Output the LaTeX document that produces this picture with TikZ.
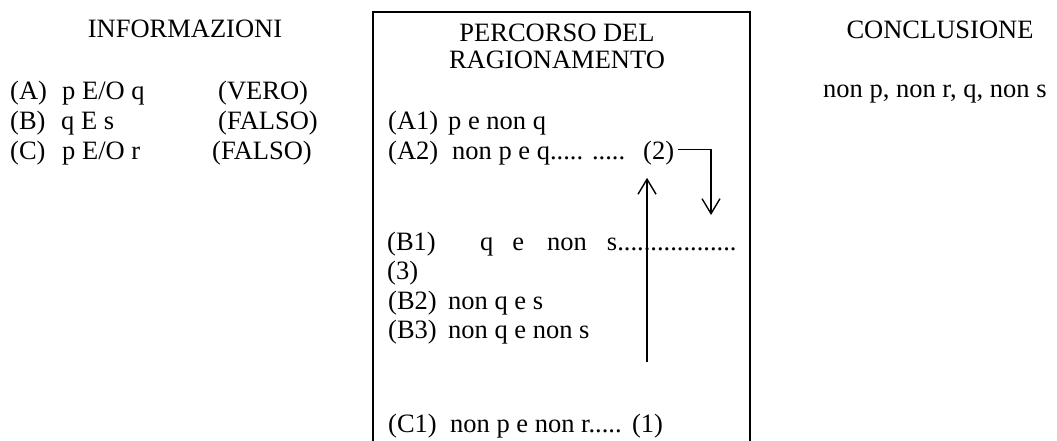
\documentclass[tikz,border=0pt]{standalone}
\usepackage{fontspec}
\setmainfont{Liberation Serif}
\usetikzlibrary{arrows.meta}
\tikzset{
	txt/.style={anchor=base west, inner sep=0pt, font=\fontsize{26.5}{30}\selectfont},
	head/.style={anchor=base, inner sep=0pt, font=\fontsize{26.5}{30}\selectfont},
	frame/.style={line width=2.5pt, line join=miter},
	arr/.style={line width=1.4pt, -{Straight Barb[length=15pt,width=18pt,line width=1.4pt]}}
}

\begin{document}
\begin{tikzpicture}[x=1pt,y=-1pt]
			%%%%% START %%%%%
			\useasboundingbox (0,0) rectangle (1057,440);
			
			% headings
			\node[head] (hinfo) at (185,37) {INFORMAZIONI};
			\node[head] (hperc) at (557,41) {PERCORSO DEL};
			\node[head] (hragi) at (557,68) {RAGIONAMENTO};
			\node[head] (hconc) at (940,38) {CONCLUSIONE};
			
			% box
			\draw[frame] (373,441) -- (373,12) -- (750,12) -- (750,441);
			
			% informazioni
			\node[txt] (la) at (10,99) {(A)};
			\node[txt] (ta) at (62,99) {p E/O q};
			\node[txt] (va) at (218,99) {(VERO)};
			\node[txt] (lb) at (10,129) {(B)};
			\node[txt] (tb) at (61,129) {q E s};
			\node[txt] (vb) at (218,129) {(FALSO)};
			\node[txt] (lc) at (10,159) {(C)};
			\node[txt] (tc) at (62,159) {p E/O r};
			\node[txt] (vc) at (212,159) {(FALSO)};
			
			% percorso
			\node[txt] (la1) at (388,129) {(A1)};
			\node[txt] (ta1) at (448,129) {p e non q};
			\node[txt] (la2) at (388,159) {(A2)};
			\node[txt] (ta2) at (452,159) {non p e q..... .....};
			\node[txt] (two) at (643,159) {(2)};
			\node[txt] (lb1) at (387,250) {(B1)};
			\node[txt] (tb1) at (480,250) {q\hspace{19pt}e\hspace{23pt}non\hspace{20pt}s..................};
			\node[txt] (three) at (387,279.5) {(3)};
			\node[txt] (lb2) at (388,309) {(B2)};
			\node[txt] (tb2) at (448,309) {non q e s};
			\node[txt] (lb3) at (388,338.5) {(B3)};
			\node[txt] (tb3) at (448,338.5) {non q e non s};
			\node[txt] (lc1) at (388,432) {(C1)};
			\node[txt] (tc1) at (450,432) {non p e non r.....};
			\node[txt] (one) at ([xshift=10pt]tc1.base east) {(1)};
			
			% conclusione
			\node[txt] (tconc) at (823,97) {non p, non r, q, non s};
			
			% arrows
			\coordinate (upfoot) at (647,362);
			\coordinate (downtip) at (711,215);
			\draw[arr, shorten >=13pt] (upfoot) -- (upfoot |- two.south);
			\draw[arr] ([xshift=4pt,yshift=3.4pt]two.east) -| (downtip);
			
			%%%%% END %%%%%
\end{tikzpicture}
\end{document}
